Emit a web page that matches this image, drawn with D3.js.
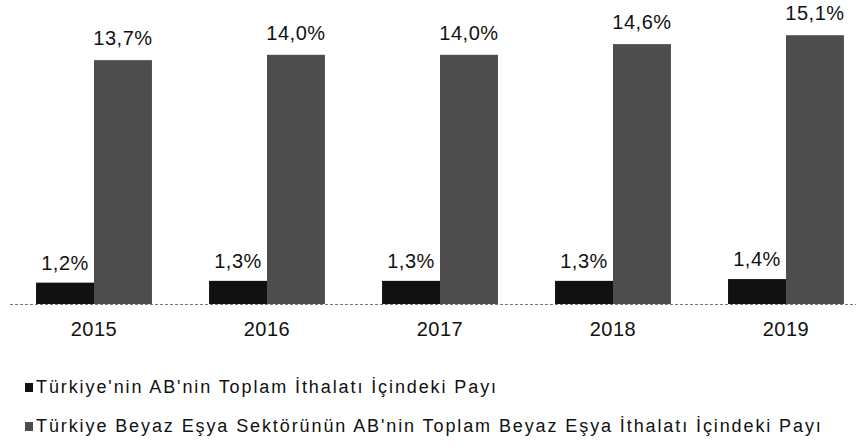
<!DOCTYPE html>
<html>
<head>
<meta charset="utf-8">
<script src="https://cdn.jsdelivr.net/npm/d3@7"></script>
<style>
  body { margin: 0; background: #fff; }
  text { font-family: "Liberation Sans", Arial, sans-serif; fill: #111; }
</style>
</head>
<body>
<div id="chart"></div>
<script>
// data
var years = ["2015", "2016", "2017", "2018", "2019"];
var shareTotal = [1.2, 1.3, 1.3, 1.3, 1.4];      // Türkiye'nin AB'nin Toplam İthalatı İçindeki Payı
var shareWhite = [13.7, 14.0, 14.0, 14.6, 15.1]; // Beyaz Eşya sektörü payı
var seriesNames = [
    "Türkiye'nin AB'nin Toplam İthalatı İçindeki Payı",
    "Türkiye Beyaz Eşya Sektörünün AB'nin Toplam Beyaz Eşya İthalatı İçindeki Payı"
];
var colors = ["#111111", "#4d4d4d"];

var width = 861, height = 446;
var baseY = 304;

var svg = d3.select("#chart").append("svg")
    .attr("width", width)
    .attr("height", height);

var x = d3.scaleBand()
    .domain(years)
    .range([7.5, 872.5])
    .paddingInner(0.33)
    .paddingOuter(0.165);

var x1 = d3.scaleBand()
    .domain([0, 1])
    .range([0, x.bandwidth()]);

var y = d3.scaleLinear()
    .domain([0, 16])
    .range([baseY, baseY - 16 * 17.8]);

function fmt(v) {
    return d3.format(".1f")(v).replace(".", ",") + "%";
}

// baseline (dotted, scanned look)
svg.append("line")
    .attr("x1", 10).attr("x2", 856)
    .attr("y1", baseY + 0.5).attr("y2", baseY + 0.5)
    .attr("stroke", "#777")
    .attr("stroke-width", 1.2)
    .attr("stroke-dasharray", "3,2");

var rows = years.map(function(yr, i) {
    return { year: yr, vals: [shareTotal[i], shareWhite[i]] };
});

var groups = svg.selectAll("g.year")
    .data(rows)
    .enter().append("g")
    .attr("class", "year")
    .attr("transform", function(d) { return "translate(" + x(d.year) + ",0)"; });

groups.selectAll("rect")
    .data(function(d) { return d.vals; })
    .enter().append("rect")
    .attr("x", function(d, i) { return x1(i); })
    .attr("width", x1.bandwidth())
    .attr("y", function(d) { return y(d); })
    .attr("height", function(d) { return baseY - y(d); })
    .attr("fill", function(d, i) { return colors[i]; });

groups.selectAll("text.val")
    .data(function(d) { return d.vals; })
    .enter().append("text")
    .attr("class", "val")
    .attr("x", function(d, i) { return x1(i) + x1.bandwidth() / 2; })
    .attr("y", function(d, i) { return y(d) - (i == 0 ? 13 : 15); })
    .attr("text-anchor", "middle")
    .attr("font-size", 20)
    .attr("letter-spacing", 0.5)
    .text(function(d) { return fmt(d); });

// year labels
var xAxis = d3.axisBottom(x).tickSize(0).tickPadding(0);
var ax = svg.append("g")
    .attr("transform", "translate(0," + (baseY + 18) + ")")
    .call(xAxis);
ax.select(".domain").remove();
ax.selectAll("text")
    .attr("font-size", 20)
    .attr("letter-spacing", 0.5)
    .attr("font-family", "Liberation Sans, Arial, sans-serif")
    .attr("fill", "#111");

// legend
var legend = svg.selectAll("g.legend")
    .data(seriesNames)
    .enter().append("g")
    .attr("class", "legend")
    .attr("transform", function(d, i) { return "translate(25," + (393 + i * 39) + ")"; });

legend.append("rect")
    .attr("x", 0).attr("y", -10)
    .attr("width", 8).attr("height", 9)
    .attr("fill", function(d, i) { return colors[i]; });

legend.append("text")
    .attr("x", 11)
    .attr("y", 0)
    .attr("font-size", 18)
    .attr("letter-spacing", 1.9)
    .text(function(d) { return d; });
</script>
</body>
</html>
